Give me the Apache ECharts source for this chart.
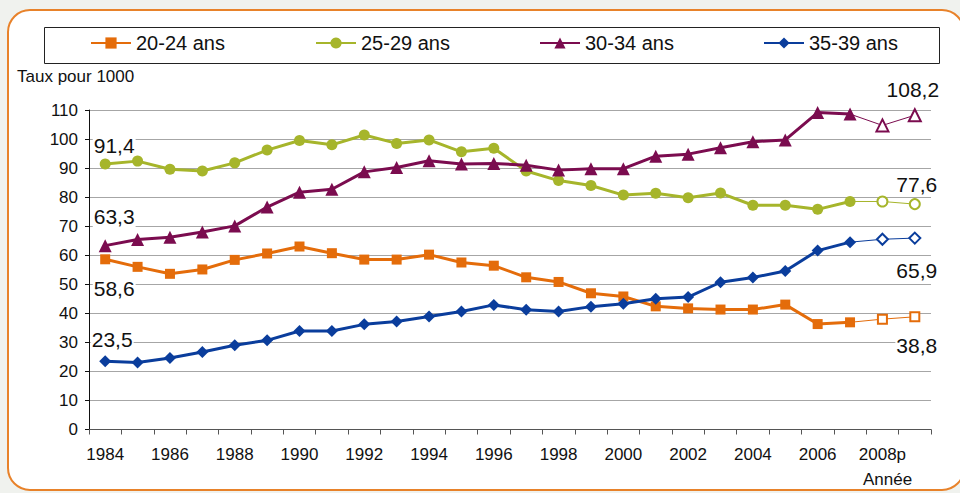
<!DOCTYPE html>
<html>
<head>
<meta charset="utf-8">
<script src="https://cdn.jsdelivr.net/npm/echarts@6/dist/echarts.min.js"></script>
<style>
  html, body { margin: 0; padding: 0; background: #f0f2ee; }
  #main { width: 960px; height: 493px; }
</style>
</head>
<body>
<div id="main"></div>
<script>
const years = ['1984', '1985', '1986', '1987', '1988', '1989', '1990', '1991', '1992', '1993',
  '1994', '1995', '1996', '1997', '1998', '1999', '2000', '2001', '2002', '2003',
  '2004', '2005', '2006', '2007', '2008p', '2009p']

const rate2024 = [58.6, 56.0, 53.6, 55.1, 58.4, 60.6, 63.0, 60.7, 58.5, 58.5,
  60.2, 57.5, 56.4, 52.4, 50.8, 46.9, 45.8, 42.4, 41.7, 41.3,
  41.3, 43.0, 36.3, 36.9, 38.0, 38.8]
const rate2529 = [91.4, 92.4, 89.6, 89.0, 91.8, 96.2, 99.5, 98.0, 101.4, 98.5,
  99.7, 95.6, 96.8, 89.0, 85.7, 84.0, 80.7, 81.3, 79.8, 81.4,
  77.2, 77.2, 75.8, 78.5, 78.5, 77.6]
const rate3034 = [63.3, 65.4, 66.2, 68.0, 70.1, 76.6, 81.7, 82.7, 88.7, 90.2,
  92.5, 91.4, 91.6, 91.0, 89.3, 89.8, 89.8, 94.1, 94.8, 97.0,
  99.1, 99.7, 109.1, 108.6, 104.7, 108.2]
const rate3539 = [23.5, 23.1, 24.6, 26.7, 29.0, 30.7, 33.9, 33.9, 36.2, 37.2,
  38.9, 40.6, 42.9, 41.2, 40.6, 42.3, 43.3, 45.0, 45.6, 50.7,
  52.3, 54.6, 61.6, 64.5, 65.5, 65.9]

// 2007 is the last observed year, after that the values are provisional
const lastObserved = 23

const font = 'Liberation Sans'

const groups = [
  { name: '20-24 ans', values: rate2024, color: '#e46c0a', symbol: 'rect', empty: 'emptyRect', size: 10, legendX: 90, first: [9, 29], last: [2, 29] },
  { name: '25-29 ans', values: rate2529, color: '#a6b52b', symbol: 'circle', empty: 'emptyCircle', size: 11, legendX: 315, first: [9, -19], last: [2, -20] },
  { name: '30-34 ans', values: rate3034, color: '#7b0c4f', symbol: 'triangle', empty: 'emptyTriangle', size: 13, legendX: 539, first: [9, -29], last: [-2, -26] },
  { name: '35-39 ans', values: rate3539, color: '#0a3d9c', symbol: 'diamond', empty: 'emptyDiamond', size: 12, legendX: 763, first: [7, -22], last: [2, 32] }
]

function valueLabel(offset) {
  return {
    show: true,
    position: 'inside',
    offset: offset,
    formatter: p => p.value.toFixed(1).replace('.', ','),
    color: '#111',
    fontSize: 21,
    fontFamily: font,
    backgroundColor: '#fff',
    padding: [0, 1]
  }
}

const series = []
groups.forEach(g => {
  series.push({
    name: g.name,
    type: 'line',
    data: g.values.map((v, i) => {
      if (i > lastObserved) return null
      if (i === 0) return { value: v, label: valueLabel(g.first) }
      return v
    }),
    symbol: g.symbol,
    symbolSize: g.size,
    lineStyle: { color: g.color, width: 3 },
    itemStyle: { color: g.color },
    z: 3
  })
  series.push({
    name: g.name,
    type: 'line',
    data: g.values.map((v, i) => {
      if (i < lastObserved) return null
      if (i === lastObserved) return { value: v, symbol: 'none' }
      if (i === g.values.length - 1) return { value: v, label: valueLabel(g.last) }
      return v
    }),
    symbol: g.empty,
    symbolSize: g.size - 1,
    lineStyle: { color: g.color, width: 1 },
    itemStyle: { color: g.color, borderWidth: 1.5 },
    z: 3
  })
})

const chart = echarts.init(document.getElementById('main'), null, { renderer: 'svg' })

chart.setOption({
  backgroundColor: '#f0f2ee',
  animation: false,
  textStyle: { fontFamily: font },
  graphic: [
    {
      type: 'rect', z: -20, silent: true,
      shape: { x: 8, y: 10, width: 956, height: 480, r: 22 },
      style: { fill: '#fff', stroke: '#e8822a', lineWidth: 2 }
    },
    {
      type: 'rect', z: -10, silent: true,
      shape: { x: 44.5, y: 27.5, width: 895, height: 36 },
      style: { fill: '#fff', stroke: '#222', lineWidth: 1 }
    },
    {
      type: 'text', left: 17, top: 68, silent: true,
      style: { text: 'Taux pour 1000', font: '17px ' + font, fill: '#111' }
    },
    {
      type: 'text', left: 863, top: 471, silent: true,
      style: { text: 'Année', font: '17px ' + font, fill: '#111' }
    }
  ],
  legend: groups.map(g => ({
    data: [g.name],
    left: g.legendX,
    top: 33,
    padding: 0,
    itemWidth: 40,
    itemHeight: 14,
    textStyle: { fontSize: 20, color: '#111', fontFamily: font }
  })),
  grid: { left: 89, right: 29, top: 110, bottom: 63.5 },
  xAxis: {
    type: 'category',
    data: years,
    boundaryGap: true,
    axisLine: { lineStyle: { color: '#555', width: 1 } },
    axisTick: { show: true, interval: 0, length: 5, lineStyle: { color: '#555' } },
    axisLabel: { interval: 1, fontSize: 17, color: '#111', margin: 16, fontFamily: font },
    splitLine: { show: false }
  },
  yAxis: {
    type: 'value',
    min: 0,
    max: 110,
    interval: 10,
    axisLine: { show: true, lineStyle: { color: '#111', width: 1 } },
    axisTick: { show: true, length: 4, lineStyle: { color: '#111' } },
    axisLabel: { fontSize: 17, color: '#111', margin: 11, fontFamily: font },
    splitLine: { lineStyle: { color: '#a6a6a6', width: 1 } }
  },
  series: series
})
</script>
</body>
</html>
